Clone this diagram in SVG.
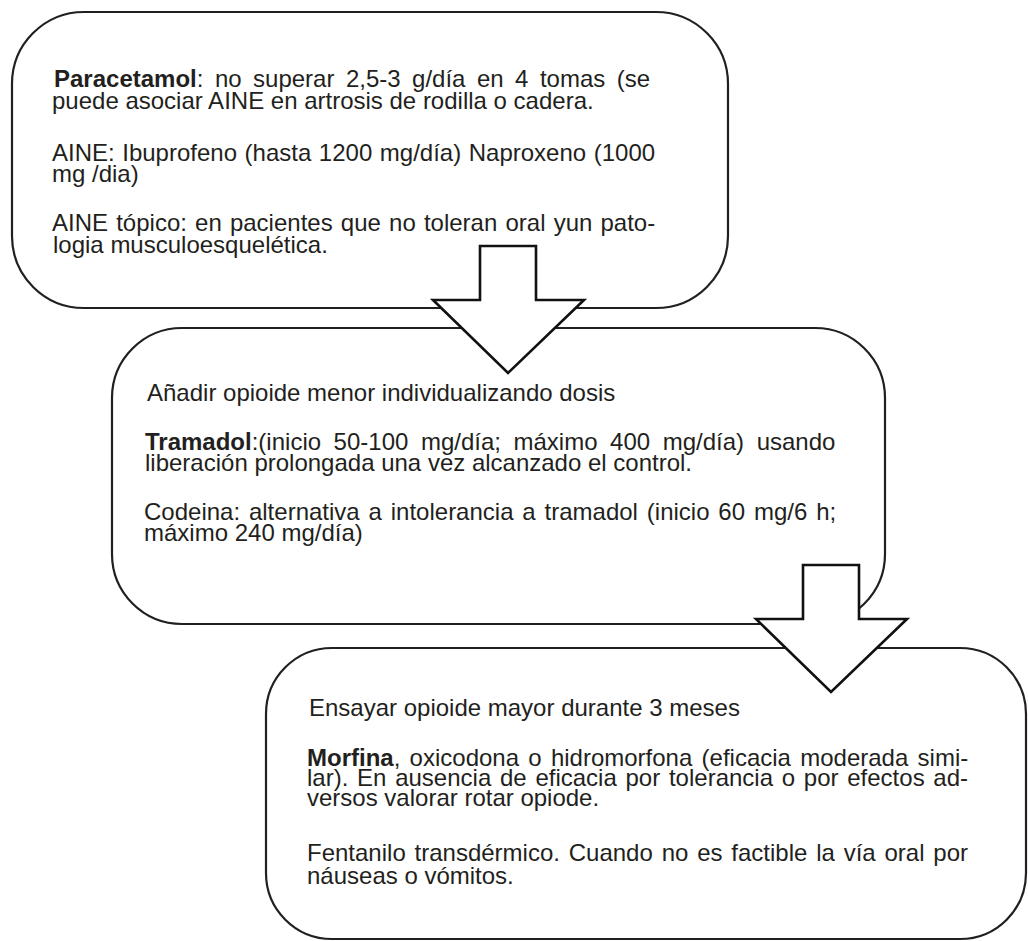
<svg xmlns="http://www.w3.org/2000/svg" width="1028" height="941" viewBox="0 0 1028 941">
<style>
.box{fill:#ffffff;stroke:#231f20;stroke-width:2.2}
.arrow{fill:#ffffff;stroke:#111111;stroke-width:2.6;stroke-linejoin:miter}
text{font-family:"Liberation Sans",Arial,Helvetica,sans-serif;font-size:24px;fill:#231f20}
.b{font-weight:bold}
</style>
<rect width="1028" height="941" fill="#ffffff"/>
<g id="node-1">
<rect class="box" x="12" y="12" width="716" height="296" rx="72" ry="72"/>
<text x="54" y="87" word-spacing="4.8"><tspan class="b">Paracetamol</tspan>: no superar 2,5-3 g/día en 4 tomas (se</text>
<text x="52" y="109">puede asociar AINE en artrosis de rodilla o cadera.</text>
<text x="52" y="161" word-spacing="0.9">AINE: Ibuprofeno (hasta 1200 mg/día) Naproxeno (1000</text>
<text x="52" y="182">mg /dia)</text>
<text x="52" y="231" word-spacing="1.5">AINE tópico: en pacientes que no toleran oral yun pato-</text>
<text x="53" y="253">logia musculoesquelética.</text>
</g>
<g id="node-2">
<rect class="box" x="112" y="328" width="773" height="296" rx="70" ry="70"/>
<text x="147" y="401">Añadir opioide menor individualizando dosis</text>
<text x="145" y="450" word-spacing="5.9"><tspan class="b">Tramadol</tspan>:(inicio 50-100 mg/día; máximo 400 mg/día) usando</text>
<text x="145" y="471">liberación prolongada una vez alcanzado el control.</text>
<text x="144" y="520" word-spacing="2.2">Codeina: alternativa a intolerancia a tramadol (inicio 60 mg/6 h;</text>
<text x="144" y="541">máximo 240 mg/día)</text>
</g>
<g id="node-3">
<rect class="box" x="266" y="648" width="760" height="291" rx="66" ry="66"/>
<text x="309" y="716">Ensayar opioide mayor durante 3 meses</text>
<text x="307" y="766" word-spacing="2.6"><tspan class="b">Morfina</tspan>, oxicodona o hidromorfona (eficacia moderada simi-</text>
<text x="307" y="786" word-spacing="2.07">lar). En ausencia de eficacia por tolerancia o por efectos ad-</text>
<text x="307" y="806">versos valorar rotar opiode.</text>
<text x="307" y="861" word-spacing="2.15">Fentanilo transdérmico. Cuando no es factible la vía oral por</text>
<text x="307" y="884">náuseas o vómitos.</text>
</g>
<g id="connectors">
<polygon id="arrow-1" class="arrow" points="480,246 536,246 536,300 584,300 508,373 433,300 480,300"/>
<polygon id="arrow-2" class="arrow" points="803,565 859,565 859,619 907,619 831,692 756,619 803,619"/>
</g>
</svg>
